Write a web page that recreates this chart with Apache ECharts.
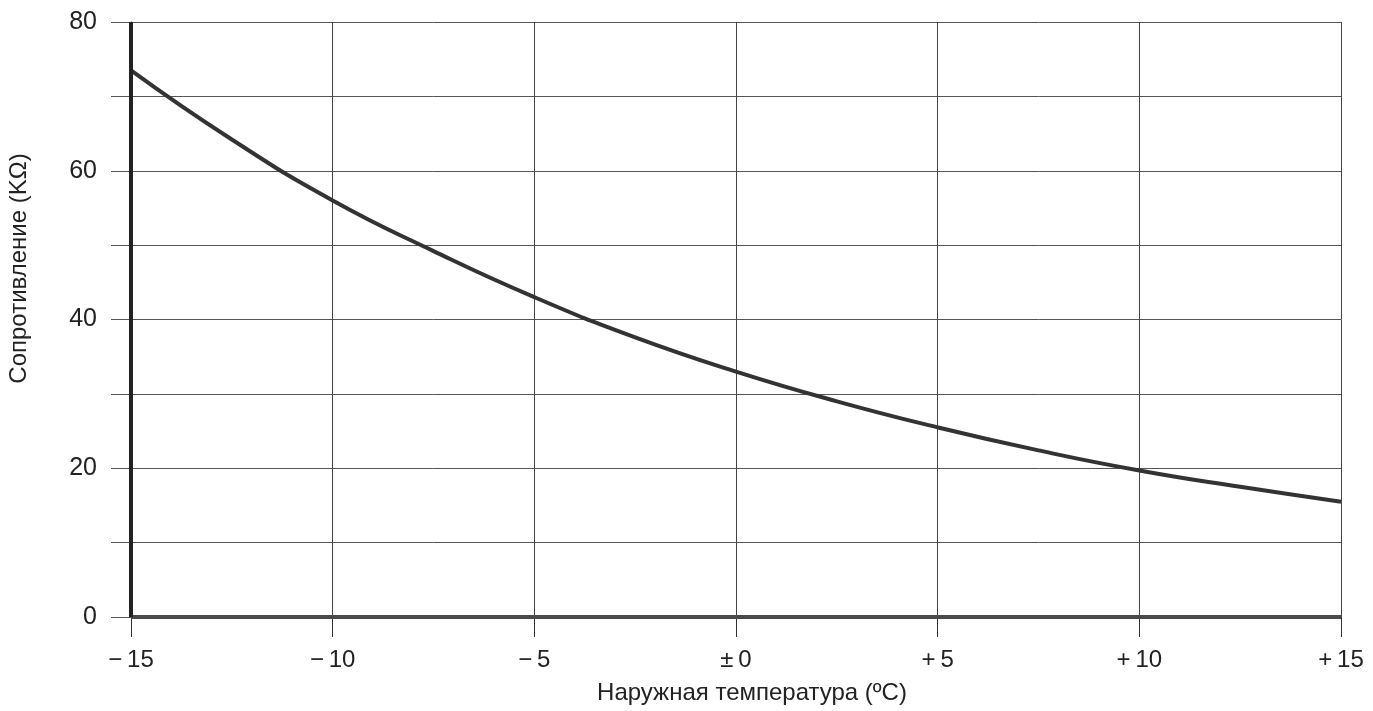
<!DOCTYPE html>
<html><head><meta charset="utf-8">
<script src="https://cdn.jsdelivr.net/npm/echarts@6/dist/echarts.min.js"></script>
<style>html,body{margin:0;padding:0;background:#fff}#c{width:1373px;height:711px}</style>
</head><body><div id="c"></div>
<script>
const temps = [-15, -12.5, -10, -7.5, -5, -2.5, 0, 2.5, 5, 7.5, 10, 12.5, 15];
const resistance = [73.5, 64.2, 56, 49.2, 43, 37.6, 33, 29, 25.5, 22.4, 19.7, 17.5, 15.5];
const xTickLabels = {'-15':'\u2212\u200915','-10':'\u2212\u200910','-5':'\u2212\u20095','0':'\u00b1\u20090','5':'+\u20095','10':'+\u200910','15':'+\u200915'};
const yTickLabels = {'0':'0','20':'20','40':'40','60':'60','80':'80'};
const xName = 'Наружная температура (ºC)';
const yName = 'Сопротивление (KΩ)';

const chart = echarts.init(document.getElementById('c'), null, {renderer:'canvas'});
const font = 'Liberation Sans, Arial, sans-serif';
chart.setOption({
  animation:false,
  grid:{left:131, right:32, top:22, bottom:94, outerBoundsMode:'none', containLabel:false},
  xAxis:{
    type:'value', min:-15, max:15, interval:5,
    name:xName, nameLocation:'middle', nameGap:64,
    nameTextStyle:{fontFamily:font, fontSize:24, color:'#222', padding:[0,0,0,32]},
    axisLine:{show:true, onZero:false, lineStyle:{color:'#555', width:1}},
    axisTick:{show:true, inside:false, length:20, lineStyle:{color:'#333', width:1}},
    axisLabel:{fontFamily:font, fontSize:24, color:'#222', margin:31,
      formatter:v=>xTickLabels[String(v)] ?? ''},
    splitLine:{show:true, lineStyle:{color:'#444', width:1}}
  },
  yAxis:{
    type:'value', min:0, max:80, interval:10,
    name:yName, nameLocation:'middle', nameGap:100, nameRotate:90,
    nameTextStyle:{fontFamily:font, fontSize:24, color:'#222', padding:[0,0,0,102]},
    axisLine:{show:true, onZero:false, lineStyle:{color:'#222', width:1}},
    axisTick:{show:true, inside:false, length:20, lineStyle:{color:'#555', width:1}},
    axisLabel:{fontFamily:font, fontSize:25, color:'#222', margin:34,
      formatter:v=>yTickLabels[String(v)] ?? ''},
    splitLine:{show:true, lineStyle:{color:'#555', width:1}}
  },
  series:[
    {type:'line', data:temps.map((t,i)=>[t,resistance[i]]), smooth:true, showSymbol:false,
     lineStyle:{color:'#333', width:4}, z:5},
    {type:'line', data:[[-15,0],[15,0]], showSymbol:false, silent:true,
     lineStyle:{color:'#4a4a4a', width:4}, z:4},
    {type:'line', data:[[-15,0],[-15,80]], showSymbol:false, silent:true,
     lineStyle:{color:'#222', width:4}, z:6}
  ]
});
</script></body></html>
